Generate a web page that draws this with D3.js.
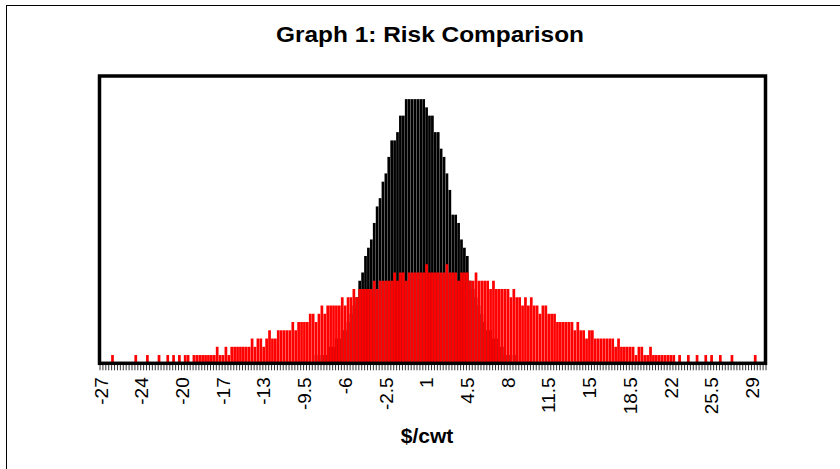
<!DOCTYPE html>
<html>
<head>
<meta charset="utf-8">
<script src="https://cdn.jsdelivr.net/npm/d3@7"></script>
<style>
  body { margin: 0; background: #fff; }
  svg text { font-family: "Liberation Sans", Arial, sans-serif; fill: #000; }
</style>
</head>
<body>
<svg id="chart" width="840" height="469"></svg>
<script>
// bins of $/cwt, 0.25 wide, first bin at -27
const binStart = -27;
const binStep = 0.25;
const binCount = 229;

// tick labels, one every 14 bins (as printed on the original)
const tickLabels = ["-27", "-24", "-20", "-17", "-13", "-9.5", "-6", "-2.5", "1",
    "4.5", "8", "11.5", "15", "18.5", "22", "25.5", "29"];

// narrow distribution (black)
const blackCounts = [
    0,0,0,0,0,0,0,0,0,0,
    0,0,0,0,0,0,0,0,0,0,
    0,0,0,0,0,0,0,0,0,0,
    0,0,0,0,0,0,0,0,0,0,
    0,0,0,0,0,0,0,0,0,0,
    0,0,0,0,0,0,0,0,0,0,
    0,0,0,0,0,0,0,0,0,0,
    0,0,0,0,1,0,1,1,1,2,
    2,3,3,4,4,5,6,7,8,10,
    11,13,14,15,17,19,20,22,23,25,
    27,27,28,30,30,32,32,32,32,32,
    32,32,31,30,30,28,28,26,25,23,
    21,18,18,17,15,14,13,10,9,8,
    7,6,5,4,4,3,3,2,2,1,
    1,1,0,1,0,0,0,0,0,0,
    0,0,0,0,0,0,0,0,0,0,
    0,0,0,0,0,0,0,0,0,0,
    0,0,0,0,0,0,0,0,0,0,
    0,0,0,0,0,0,0,0,0,0,
    0,0,0,0,0,0,0,0,0,0,
    0,0,0,0,0,0,0,0,0,0,
    0,0,0,0,0,0,0,0,0,0,
    0,0,0,0,0,0,0,0,0
];

// wide distribution (red)
const redCounts = [
    0,0,0,0,1,0,0,0,0,0,
    0,0,1,0,0,0,1,0,0,0,
    1,0,0,1,0,1,0,1,0,1,
    1,0,1,1,1,1,1,1,1,1,
    2,1,1,2,1,2,2,2,2,2,
    2,2,3,2,3,3,2,3,4,3,
    3,4,4,4,4,4,5,4,5,5,
    5,5,6,6,5,6,7,6,7,7,
    7,7,7,8,7,8,8,9,8,9,
    9,9,9,9,10,9,10,10,10,10,
    10,11,10,11,11,10,11,11,11,11,
    11,11,12,11,11,11,11,11,11,12,
    11,11,11,10,11,11,11,10,10,11,
    10,10,10,10,9,10,9,9,9,9,
    9,8,9,8,8,7,8,7,8,7,
    7,6,7,7,6,6,6,5,5,5,
    5,5,5,4,5,4,4,3,4,4,
    3,3,3,3,3,3,3,2,3,2,
    2,2,2,2,1,2,2,1,1,2,
    1,1,1,1,1,1,1,1,0,1,
    0,0,1,0,0,1,0,0,1,0,
    1,0,0,1,0,0,0,1,0,0,
    0,0,0,0,0,1,0,0,0
];

const yMax = 34.8;

const svg = d3.select("#chart");
const plot = {left: 99.5, right: 765.5, top: 76, bottom: 363.3};

const bins = d3.range(binCount);
const x = d3.scaleBand()
    .domain(bins)
    .range([plot.left, plot.right])
    .padding(0);
// edges of the bins, for the tick marks between categories
const xEdge = d3.scaleLinear()
    .domain([0, binCount])
    .range([plot.left, plot.right]);
const y = d3.scaleLinear()
    .domain([0, yMax])
    .range([plot.bottom, plot.top]);

// outer chart frame
svg.append("rect")
    .attr("x", 6.5).attr("y", 5.5)
    .attr("width", 900).attr("height", 600)
    .attr("fill", "none").attr("stroke", "#000").attr("stroke-width", 1);

svg.append("text")
    .attr("x", 430).attr("y", 42)
    .attr("text-anchor", "middle")
    .attr("textLength", 308)
    .attr("lengthAdjust", "spacingAndGlyphs")
    .style("font-size", "22px").style("font-weight", "bold")
    .text("Graph 1: Risk Comparison");

function drawBars(counts, color){
    svg.append("g")
        .selectAll("rect")
        .data(bins.filter(i => counts[i] > 0))
        .join("rect")
        .attr("x", i => x(i))
        .attr("width", x.bandwidth() - 0.2)
        .attr("y", i => y(counts[i]))
        .attr("height", i => y(0) - y(counts[i]))
        .attr("fill", color);
}
drawBars(blackCounts, "#000");
drawBars(redCounts, "#ff0000");

// minor tick marks at every bin edge
const tickAxis = svg.append("g")
    .attr("transform", "translate(0," + plot.bottom + ")")
    .call(d3.axisBottom(xEdge)
        .tickValues(d3.range(binCount + 1))
        .tickSize(7)
        .tickFormat(""));
tickAxis.select(".domain").remove();
tickAxis.selectAll("line").attr("stroke", "#000").attr("stroke-width", 0.8);

// labels every 14 bins, turned up
const labelBins = tickLabels.map((t, k) => k * 14);
const labelAxis = svg.append("g")
    .attr("transform", "translate(0," + plot.bottom + ")")
    .call(d3.axisBottom(x)
        .tickValues(labelBins)
        .tickSize(0)
        .tickFormat((d, k) => tickLabels[k]));
labelAxis.select(".domain").remove();
labelAxis.selectAll("text")
    .style("font-size", "19px")
    .style("font-family", "Liberation Sans, Arial, sans-serif")
    .attr("transform", "rotate(-90)")
    .attr("x", -14)
    .attr("y", 0)
    .attr("dy", "0.35em")
    .style("text-anchor", "end");

// plot frame
svg.append("rect")
    .attr("x", plot.left).attr("y", plot.top)
    .attr("width", plot.right - plot.left)
    .attr("height", plot.bottom - plot.top)
    .attr("fill", "none").attr("stroke", "#000").attr("stroke-width", 3.5);

svg.append("text")
    .attr("x", 427).attr("y", 443)
    .attr("text-anchor", "middle")
    .style("font-size", "21px").style("font-weight", "bold")
    .text("$/cwt");
</script>
</body>
</html>
